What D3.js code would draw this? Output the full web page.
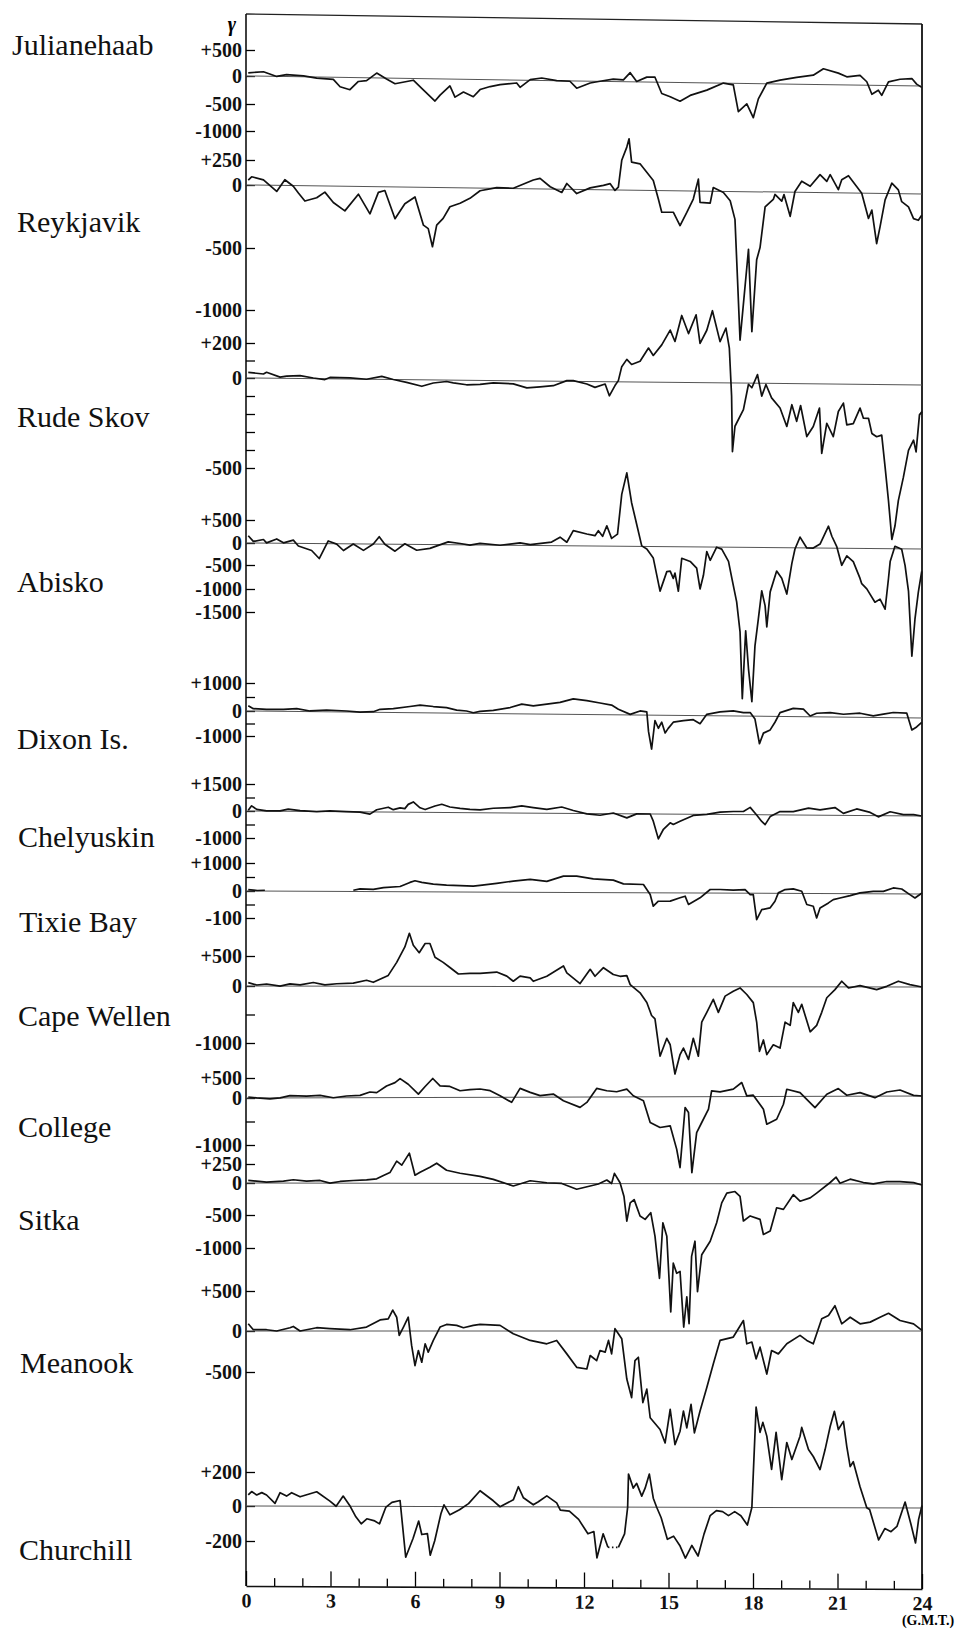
<!DOCTYPE html>
<html>
<head>
<meta charset="utf-8">
<script src="https://cdn.jsdelivr.net/npm/d3@7"></script>
<style>
  body { margin: 0; background: #fff; }
  svg { display: block; }
  .station { font-family: "Liberation Serif", serif; font-size: 30px; fill: #111; }
  .yaxis .tick text { font-family: "Liberation Serif", serif; font-weight: bold; font-size: 20px; fill: #111; }
  .xaxis .tick text { font-family: "Liberation Serif", serif; font-weight: bold; font-size: 20px; fill: #111; }
</style>
</head>
<body>
<div id="chart"></div>
<script>

// station names, top to bottom
var stations = ["Julianehaab", "Reykjavik", "Rude Skov", "Abisko", "Dixon Is.", "Chelyuskin",
  "Tixie Bay", "Cape Wellen", "College", "Sitka", "Meanook", "Churchill"];

// [hour (G.M.T.), deviation in gamma]; null = trace missing
var julianehaab = [[0.08,62],[0.62,87],[1.09,0],[1.44,37],[2.04,18],[2.51,-18],[3.1,-37],[3.34,-167],[3.69,-217],[3.99,-68],[4.28,-50],[4.64,93],[4.99,-18],[5.29,-99],[5.94,-31],[6.24,-174],[6.71,-397],[6.89,-290],[7.24,-124],[7.42,-322],[7.72,-230],[8.07,-310],[8.31,-180],[8.67,-124],[9.02,-87],[9.61,-53],[9.73,-130],[10.09,12],[10.5,46],[11.03,0],[11.5,-8],[11.74,-130],[12.22,-34],[12.57,0],[13.04,46],[13.4,34],[13.64,174],[13.87,6],[14.23,92],[14.52,93],[14.76,-202],[15.06,-260],[15.41,-335],[15.77,-229],[16.36,-130],[16.95,0],[17.3,-31],[17.48,-505],[17.78,-366],[18.01,-614],[18.19,-273],[18.49,10],[18.96,74],[19.55,130],[20.14,177],[20.5,304],[21.03,224],[21.33,155],[21.8,186],[22.04,66],[22.22,-161],[22.45,-87],[22.57,-178],[22.81,70],[23.22,124],[23.64,140],[23.81,34],[23.99,-25]];

var reykjavik = [[0.08,50],[0.2,83],[0.62,53],[1.09,-48],[1.38,58],[1.68,-5],[1.86,-58],[2.09,-121],[2.51,-94],[2.8,-48],[3.1,-130],[3.51,-195],[3.99,-61],[4.4,-216],[4.7,-44],[4.93,-29],[5.29,-252],[5.64,-132],[6.0,-77],[6.3,-300],[6.47,-327],[6.62,-470],[6.77,-298],[7.0,-244],[7.24,-151],[7.6,-122],[7.95,-82],[8.31,-21],[8.9,7],[9.49,3],[10.2,88],[10.44,105],[10.8,23],[11.21,-26],[11.39,58],[11.74,-33],[12.22,17],[12.69,44],[12.93,62],[13.1,-4],[13.22,29],[13.34,297],[13.52,430],[13.6,513],[13.69,280],[13.99,264],[14.46,99],[14.64,-67],[14.76,-172],[15.17,-171],[15.41,-276],[15.65,-171],[15.88,-64],[16.06,119],[16.12,-90],[16.48,-95],[16.59,37],[16.95,-9],[17.19,-74],[17.36,-221],[17.45,-700],[17.54,-1190],[17.84,-458],[17.96,-1120],[18.13,-540],[18.25,-442],[18.43,-118],[18.72,-59],[18.78,-19],[19.02,-72],[19.1,-19],[19.32,-191],[19.49,8],[19.73,112],[20.03,62],[20.38,180],[20.62,113],[20.74,181],[21.03,32],[21.15,132],[21.39,173],[21.68,67],[21.86,0],[22.1,-200],[22.22,-133],[22.39,-398],[22.51,-265],[22.69,-51],[22.93,104],[23.16,38],[23.28,-63],[23.52,-104],[23.7,-196],[23.87,-209],[23.99,-168]];

var rudeSkov = [[0.08,32],[0.62,24],[0.73,34],[1.21,7],[1.44,13],[1.92,17],[2.39,4],[2.8,-4],[2.98,8],[3.69,7],[4.28,0],[4.82,17],[5.23,0],[5.7,-15],[6.24,-36],[6.65,-17],[7.12,-8],[7.36,-15],[7.83,-25],[8.31,-22],[8.78,-13],[9.49,-17],[9.97,-39],[10.44,-32],[10.91,-25],[11.39,4],[11.62,4],[12.1,-14],[12.39,-32],[12.75,-13],[12.9,-78],[13.1,-21],[13.22,7],[13.34,87],[13.52,129],[13.69,100],[13.99,119],[14.29,195],[14.46,153],[14.76,214],[15.06,299],[15.23,234],[15.47,383],[15.71,280],[15.98,388],[16.12,225],[16.36,300],[16.56,412],[16.83,236],[17.04,314],[17.16,199],[17.24,-72],[17.27,-381],[17.36,-240],[17.66,-147],[17.84,-6],[17.96,-25],[18.16,50],[18.31,-71],[18.46,-6],[18.66,-80],[18.96,-136],[19.2,-238],[19.38,-117],[19.55,-209],[19.69,-121],[19.91,-293],[20.14,-237],[20.36,-134],[20.44,-386],[20.62,-218],[20.85,-292],[21.03,-152],[21.21,-105],[21.33,-226],[21.56,-219],[21.8,-132],[21.92,-188],[22.1,-188],[22.22,-272],[22.39,-290],[22.57,-281],[22.69,-458],[22.81,-645],[22.93,-860],[23.04,-785],[23.16,-644],[23.34,-513],[23.52,-364],[23.7,-307],[23.79,-372],[23.91,-166],[24.0,-148]];

var abisko = [[0.08,158],[0.26,36],[0.62,79],[0.73,7],[1.09,94],[1.33,11],[1.68,72],[1.86,-58],[2.33,-158],[2.6,-338],[2.92,61],[3.22,-7],[3.46,-151],[3.81,-3],[4.17,-144],[4.52,4],[4.73,163],[4.93,0],[5.29,-156],[5.64,14],[6.06,-130],[6.53,-86],[7.18,63],[7.6,30],[7.95,-3],[8.31,36],[9.02,0],[9.73,54],[10.09,18],[10.85,79],[11.15,187],[11.39,79],[11.62,333],[12.1,262],[12.39,226],[12.51,334],[12.66,214],[12.81,444],[12.98,171],[13.19,265],[13.34,1130],[13.52,1598],[13.69,950],[13.87,482],[14.05,14],[14.23,-55],[14.46,-260],[14.7,-967],[14.94,-560],[15.06,-550],[15.17,-700],[15.23,-590],[15.35,-967],[15.47,-260],[15.77,-330],[16.0,-480],[16.12,-915],[16.24,-630],[16.36,-100],[16.48,-300],[16.71,0],[16.89,-43],[17.13,-319],[17.25,-688],[17.42,-1186],[17.54,-1836],[17.62,-3290],[17.74,-1813],[17.84,-2638],[17.96,-3353],[18.07,-2137],[18.19,-1551],[18.31,-942],[18.43,-1267],[18.49,-1723],[18.61,-963],[18.84,-527],[19.02,-679],[19.2,-1005],[19.38,-352],[19.49,-26],[19.67,234],[19.91,0],[20.14,0],[20.38,87],[20.68,477],[20.8,260],[20.97,43],[21.15,-386],[21.33,-170],[21.56,-300],[21.8,-666],[21.86,-775],[22.04,-883],[22.33,-1166],[22.51,-1098],[22.69,-1315],[22.81,-662],[22.87,-293],[23.04,54],[23.28,-11],[23.4,-380],[23.46,-662],[23.52,-920],[23.64,-2331],[23.75,-1528],[23.87,-942],[23.99,-508]];

var dixon = [[0.08,185],[0.26,86],[0.73,69],[1.33,74],[1.8,105],[2.27,25],[2.86,66],[3.57,37],[4.05,0],[4.52,22],[4.76,111],[5.23,140],[5.82,221],[6.18,273],[6.65,229],[7.12,197],[7.48,111],[7.83,81],[8.07,22],[8.31,74],[8.78,116],[9.38,221],[9.79,348],[10.2,292],[10.68,357],[11.15,424],[11.62,553],[12.1,497],[12.57,416],[12.98,347],[13.22,202],[13.64,21],[13.99,148],[14.23,114],[14.29,-650],[14.4,-1353],[14.52,-210],[14.64,-520],[14.76,-274],[14.88,-706],[14.99,-520],[15.17,-271],[15.53,-204],[15.88,-163],[16.12,-320],[16.36,52],[16.83,143],[17.3,185],[17.66,127],[17.9,129],[18.07,-114],[18.23,-1097],[18.37,-671],[18.61,-539],[18.78,-230],[18.96,141],[19.43,295],[19.79,273],[20.03,30],[20.26,130],[20.74,160],[21.21,105],[21.8,148],[22.27,55],[22.63,121],[22.98,185],[23.46,166],[23.64,-483],[23.81,-360],[23.99,-172]];

var chelyuskin = [[0.08,38],[0.2,288],[0.38,96],[0.73,13],[1.21,19],[1.5,123],[1.92,38],[2.51,-7],[2.98,38],[3.57,8],[4.05,-12],[4.4,-81],[4.64,125],[5.05,269],[5.23,134],[5.47,236],[5.64,198],[5.76,434],[5.94,570],[6.18,250],[6.36,154],[6.71,355],[6.95,455],[7.24,307],[7.6,236],[7.95,186],[8.31,154],[8.78,253],[9.38,298],[9.79,397],[10.2,304],[10.68,211],[11.21,351],[11.62,163],[12.1,-15],[12.57,-61],[13.04,38],[13.52,-151],[13.87,0],[14.35,0],[14.46,-265],[14.64,-919],[14.82,-562],[15.06,-321],[15.17,-381],[15.41,-259],[15.88,-43],[16.36,0],[16.83,130],[17.3,173],[17.66,177],[17.9,409],[18.13,-7],[18.31,-244],[18.43,-363],[18.61,-64],[18.96,188],[19.43,192],[19.97,388],[20.38,296],[20.91,434],[21.21,111],[21.68,365],[22.16,177],[22.45,-44],[22.87,221],[23.34,71],[23.7,75],[23.99,0]];

var tixieBay = [[0.08,48],[0.4,20],[0.67,30],[2.0,null],[3.81,44],[4.05,96],[4.52,78],[4.88,141],[5.47,185],[5.82,332],[6.0,393],[6.24,336],[6.65,277],[7.12,245],[7.6,226],[8.07,208],[8.31,238],[8.9,312],[9.49,398],[10.09,459],[10.68,390],[11.27,583],[11.74,584],[12.33,491],[13.04,446],[13.4,316],[14.11,295],[14.35,-63],[14.46,-495],[14.64,-311],[15.06,-307],[15.41,-181],[15.59,-120],[15.71,-427],[16.12,-178],[16.48,127],[16.83,128],[17.3,107],[17.72,131],[17.9,-49],[18.01,-49],[18.13,-974],[18.31,-605],[18.61,-538],[18.78,-293],[18.9,17],[19.14,138],[19.43,163],[19.73,80],[19.91,-409],[20.14,-470],[20.26,-903],[20.38,-532],[20.68,-345],[20.85,-222],[21.09,-160],[21.45,-71],[21.8,28],[22.27,89],[22.63,89],[22.98,212],[23.28,175],[23.57,-26],[23.75,-147],[24.0,36]];

var capeWellen = [[0.08,57],[0.38,17],[0.73,34],[1.21,0],[1.56,37],[1.92,20],[2.39,60],[2.8,21],[3.22,40],[3.81,51],[4.28,99],[4.52,65],[5.05,180],[5.35,398],[5.64,655],[5.8,882],[5.94,684],[6.15,559],[6.36,713],[6.53,713],[6.71,485],[7.0,399],[7.24,314],[7.54,205],[7.95,217],[8.31,217],[8.9,239],[9.26,171],[9.49,86],[9.73,171],[10.09,143],[10.2,86],[10.68,171],[11.27,342],[11.39,228],[11.86,48],[12.22,286],[12.39,171],[12.69,314],[13.04,200],[13.28,171],[13.52,183],[13.64,33],[13.99,-109],[14.23,-280],[14.4,-507],[14.52,-565],[14.7,-1221],[14.94,-907],[15.06,-1020],[15.23,-1533],[15.41,-1191],[15.53,-1077],[15.71,-1277],[15.88,-906],[16.06,-1220],[16.18,-621],[16.36,-450],[16.59,-222],[16.77,-450],[17.01,-165],[17.3,-79],[17.54,-22],[17.78,-136],[18.01,-278],[18.13,-619],[18.23,-1133],[18.37,-933],[18.49,-1190],[18.72,-1018],[18.96,-1075],[19.14,-621],[19.32,-677],[19.43,-277],[19.61,-449],[19.73,-306],[20.03,-789],[20.26,-675],[20.44,-447],[20.62,-191],[20.91,-48],[21.15,94],[21.39,-19],[21.8,21],[22.39,-47],[22.75,10],[23.16,96],[23.57,39],[24.0,0]];

var college = [[0.08,25],[0.38,0],[0.85,-21],[1.21,0],[1.56,58],[2.15,42],[2.63,58],[3.1,0],[3.57,42],[4.05,58],[4.4,141],[4.64,125],[4.99,290],[5.29,374],[5.47,474],[5.76,332],[6.12,83],[6.36,274],[6.63,474],[6.89,290],[7.24,274],[7.6,166],[7.95,191],[8.31,208],[8.67,166],[9.02,40],[9.43,-109],[9.73,220],[10.09,120],[10.44,37],[10.91,76],[11.27,-78],[11.86,-221],[12.1,-115],[12.45,213],[12.81,154],[13.16,129],[13.52,193],[13.75,27],[14.11,-84],[14.35,-547],[14.7,-654],[15.06,-619],[15.29,-1115],[15.41,-1507],[15.59,-230],[15.71,-337],[15.83,-1615],[16.0,-765],[16.18,-550],[16.42,-266],[16.53,145],[16.83,120],[17.3,184],[17.6,350],[17.78,17],[18.01,33],[18.37,-271],[18.49,-591],[18.84,-486],[19.08,-167],[19.2,178],[19.67,95],[20.2,-240],[20.62,50],[21.03,191],[21.33,24],[21.8,89],[22.33,-32],[22.75,103],[23.22,151],[23.7,17],[24.0,0]];

var sitka = [[0.08,35],[0.73,13],[1.33,26],[1.68,44],[2.15,26],[2.63,35],[2.98,0],[3.34,22],[3.81,35],[4.28,44],[4.64,57],[4.88,101],[5.11,140],[5.35,290],[5.53,238],[5.8,396],[6.0,106],[6.18,145],[6.53,211],[6.77,264],[7.12,172],[7.6,132],[8.31,92],[8.78,53],[9.49,-41],[10.09,35],[10.68,9],[11.21,0],[11.74,-90],[12.22,-39],[12.51,-8],[12.81,46],[12.98,0],[13.08,134],[13.28,11],[13.42,-202],[13.52,-583],[13.64,-302],[13.78,-251],[13.99,-506],[14.17,-557],[14.37,-455],[14.52,-812],[14.68,-1450],[14.8,-608],[14.94,-812],[15.08,-1960],[15.17,-1220],[15.29,-1373],[15.41,-1346],[15.54,-2188],[15.65,-1729],[15.73,-2137],[15.82,-1117],[15.94,-887],[16.03,-1652],[16.18,-1091],[16.48,-887],[16.71,-606],[16.89,-300],[17.07,-147],[17.36,-122],[17.54,-198],[17.66,-580],[17.9,-503],[18.25,-554],[18.37,-784],[18.61,-732],[18.84,-375],[19.08,-400],[19.43,-170],[19.67,-272],[20.03,-220],[20.26,-144],[20.74,18],[20.95,88],[21.09,9],[21.45,62],[21.92,18],[22.27,0],[22.75,32],[23.22,32],[23.7,18],[24.0,-15]];

var meanook = [[0.08,90],[0.26,16],[0.73,16],[1.09,0],[1.56,41],[1.68,57],[1.92,0],[2.51,41],[2.98,29],[3.69,16],[4.28,49],[4.76,139],[5.05,152],[5.21,262],[5.35,172],[5.44,-53],[5.59,49],[5.76,172],[5.88,-176],[6.0,-422],[6.12,-238],[6.24,-381],[6.36,-156],[6.47,-258],[6.65,-115],[6.89,49],[7.12,82],[7.48,70],[7.72,41],[8.07,70],[8.31,82],[9.02,70],[9.49,-33],[10.09,-115],[10.68,-156],[11.03,-115],[11.39,-279],[11.74,-443],[12.1,-463],[12.22,-299],[12.45,-361],[12.57,-238],[12.75,-258],[12.87,-115],[12.98,-279],[13.1,29],[13.34,-94],[13.52,-586],[13.69,-812],[13.81,-361],[13.93,-320],[14.09,-873],[14.23,-709],[14.35,-1058],[14.7,-1201],[14.88,-1365],[15.06,-955],[15.23,-1386],[15.41,-1222],[15.53,-976],[15.65,-1181],[15.8,-894],[15.92,-1242],[16.12,-976],[16.36,-689],[16.59,-402],[16.83,-115],[17.3,-74],[17.66,131],[17.78,-156],[17.96,-135],[18.11,-340],[18.25,-197],[18.49,-525],[18.66,-238],[18.9,-279],[19.2,-156],[19.67,-53],[19.91,-115],[20.14,-156],[20.44,152],[20.68,193],[20.91,316],[21.15,90],[21.45,172],[21.8,90],[22.16,111],[22.51,172],[22.81,221],[23.22,131],[23.7,90],[24.0,8]];

var churchill = [[0.08,65],[0.2,85],[0.38,65],[0.56,79],[0.73,65],[1.03,16],[1.21,79],[1.44,59],[1.62,79],[1.92,55],[2.51,85],[2.98,30],[3.2,0],[3.45,60],[3.7,0],[3.9,-60],[4.09,-100],[4.29,-71],[4.57,-83],[4.74,-100],[4.96,-6],[5.18,24],[5.47,35],[5.67,-290],[5.93,-183],[6.13,-83],[6.24,-160],[6.44,-155],[6.54,-278],[6.7,-195],[6.92,-41],[7.03,10],[7.24,-47],[7.58,-18],[7.9,18],[8.31,94],[8.78,35],[9.02,0],[9.49,41],[9.67,118],[9.85,53],[10.2,12],[10.38,30],[10.68,65],[11.03,24],[11.16,-18],[11.48,-24],[11.81,-71],[12.14,-153],[12.35,-140],[12.46,-290],[12.68,-153],[12.85,-230],[13.0,null],[13.22,-230],[13.44,-153],[13.55,0],[13.58,195],[13.75,112],[13.87,140],[14.05,65],[14.17,112],[14.32,195],[14.46,53],[14.58,0],[14.74,-60],[14.96,-183],[15.18,-165],[15.4,-218],[15.6,-290],[15.83,-218],[16.05,-278],[16.26,-153],[16.48,-47],[16.7,-18],[16.92,-24],[17.13,-47],[17.35,-24],[17.57,-47],[17.8,-100],[17.96,0],[18.11,590],[18.25,442],[18.35,501],[18.49,420],[18.66,224],[18.82,442],[19.02,165],[19.2,383],[19.38,283],[19.67,420],[19.73,472],[19.97,342],[20.14,301],[20.38,224],[20.56,342],[20.74,478],[20.89,567],[21.03,460],[21.21,508],[21.33,360],[21.45,242],[21.56,271],[21.8,124],[22.04,0],[22.14,-10],[22.46,-183],[22.68,-118],[22.9,-136],[23.11,-106],[23.4,35],[23.61,-94],[23.77,-200],[23.88,-65],[24.0,15]];

var series = [julianehaab, reykjavik, rudeSkov, abisko, dixon, chelyuskin,
  tixieBay, capeWellen, college, sitka, meanook, churchill];

// how a gap in the trace is printed: blank, or bridged by a dotted line
var gapStyle = ["none", "none", "none", "none", "none", "none",
  "none", "none", "none", "none", "none", "dotted"];

// left-hand scale ticks of each magnetogram (gamma) and their printed labels
var tickValues = [
  [500, 0, -500, -1000],
  [250, 0, -500, -1000],
  [200, 100, 0, -100, -200, -300, -400, -500],
  [500, 0, -500, -1000, -1500],
  [1000, 500, 0, -500, -1000],
  [1500, 750, 0, -500, -1000],
  [1000, 500, 0, -500, -1000],
  [500, 0, -500, -1000],
  [500, 0, -500, -1000],
  [250, 0, -500, -1000],
  [500, 0, -500],
  [200, 0, -200]
];
var tickLabels = [
  ["+500", "0", "-500", "-1000"],
  ["+250", "0", "-500", "-1000"],
  ["+200", "", "0", "", "", "", "", "-500"],
  ["+500", "0", "-500", "-1000", "-1500"],
  ["+1000", "", "0", "", "-1000"],
  ["+1500", "", "0", "", "-1000"],
  ["+1000", "", "0", "", "-100"],
  ["+500", "0", "", "-1000"],
  ["+500", "0", "", "-1000"],
  ["+250", "0", "-500", "-1000"],
  ["+500", "0", "-500"],
  ["+200", "0", "-200"]
];

var hourTicks = d3.range(0, 25);

// page layout: zero line y, y of each labelled tick, name position, tilt of the scan (px over 24h)
var layout = [
  {zero: 76,   anchors: [50, 76, 104, 131],        nameX: 12, nameY: 55,   tilt: 10},
  {zero: 185,  anchors: [160, 185, 248, 310],      nameX: 17, nameY: 232,  tilt: 9},
  {zero: 378,  anchors: [343, 378, 468],           nameX: 17, nameY: 427,  tilt: 7},
  {zero: 543,  anchors: [520, 543, 565, 589, 612], nameX: 17, nameY: 592,  tilt: 6},
  {zero: 711,  anchors: [683, 711, 736],           nameX: 17, nameY: 749,  tilt: 7},
  {zero: 811,  anchors: [784, 811, 838],           nameX: 18, nameY: 847,  tilt: 5},
  {zero: 891,  anchors: [863, 891, 918],           nameX: 19, nameY: 932,  tilt: 3},
  {zero: 986,  anchors: [956, 986, 1043],          nameX: 18, nameY: 1026, tilt: 1},
  {zero: 1098, anchors: [1078, 1098, 1145],        nameX: 18, nameY: 1137, tilt: -2},
  {zero: 1183, anchors: [1164, 1183, 1215, 1248],  nameX: 18, nameY: 1230, tilt: 1},
  {zero: 1331, anchors: [1291, 1331, 1372],        nameX: 20, nameY: 1373, tilt: 0},
  {zero: 1506, anchors: [1472, 1506, 1541],        nameX: 19, nameY: 1560, tilt: 2}
];

var W = 960, H = 1635;
var frame = {left: 246, right: 922, top: 14, topTilt: 10, bottom: 1586, bottomTilt: 3};
var plotW = frame.right - frame.left;

var svg = d3.select("#chart").append("svg")
  .attr("width", W)
  .attr("height", H);

var x = d3.scaleLinear().domain([0, 24]).range([0, plotW]);

function skew(tilt) {
  return "skewY(" + (Math.atan(tilt / plotW) * 180 / Math.PI) + ")";
}

// frame
svg.append("g")
  .attr("transform", "translate(" + frame.left + "," + frame.top + ") " + skew(frame.topTilt))
  .append("line")
  .attr("x1", x(0)).attr("x2", x(24))
  .attr("stroke", "#222").attr("stroke-width", 1.4);

svg.append("line")
  .attr("x1", frame.left).attr("x2", frame.left)
  .attr("y1", frame.top).attr("y2", frame.bottom)
  .attr("stroke", "#111").attr("stroke-width", 1.6);

svg.append("line")
  .attr("x1", frame.right).attr("x2", frame.right)
  .attr("y1", frame.top + frame.topTilt).attr("y2", frame.bottom + frame.bottomTilt)
  .attr("stroke", "#111").attr("stroke-width", 1.8);

// time axis
var xAxis = d3.axisBottom(x)
  .tickValues(hourTicks)
  .tickSize(-8)
  .tickSizeOuter(0)
  .tickPadding(7)
  .tickFormat(function(d) { return d % 3 === 0 ? d : ""; });

var xg = svg.append("g")
  .attr("class", "xaxis")
  .attr("transform", "translate(" + frame.left + "," + frame.bottom + ") " + skew(frame.bottomTilt))
  .call(xAxis);

xg.select(".domain").attr("stroke", "#111").attr("stroke-width", 1.6);
xg.selectAll(".tick line")
  .attr("stroke-width", 1.3)
  .attr("y2", function(d) { return d % 3 === 0 ? -15 : -8; });

svg.append("text")
  .attr("x", 928)
  .attr("y", 1625)
  .attr("text-anchor", "middle")
  .style("font-family", "'Liberation Serif', serif")
  .style("font-weight", "bold")
  .style("font-size", "14px")
  .text("(G.M.T.)");

svg.append("text")
  .attr("x", 232)
  .attr("y", 31)
  .attr("text-anchor", "middle")
  .style("font-family", "'Liberation Serif', serif")
  .style("font-style", "italic")
  .style("font-weight", "bold")
  .style("font-size", "20px")
  .text("γ");

// one magnetogram per station
stations.forEach(function(name, i) {
  var L = layout[i];
  var labelled = tickValues[i].filter(function(v, j) { return tickLabels[i][j] !== ""; });

  var y = d3.scaleLinear()
    .domain(labelled)
    .range(L.anchors.map(function(a) { return a - L.zero; }));

  svg.append("text")
    .attr("class", "station")
    .attr("x", L.nameX)
    .attr("y", L.nameY)
    .text(name);

  var yAxis = d3.axisLeft(y)
    .tickValues(tickValues[i])
    .tickSize(-9)
    .tickPadding(4)
    .tickFormat(function(d, j) { return tickLabels[i][j]; });

  var ag = svg.append("g")
    .attr("class", "yaxis")
    .attr("transform", "translate(" + frame.left + "," + L.zero + ")")
    .call(yAxis);
  ag.select(".domain").remove();
  ag.selectAll(".tick line").attr("stroke-width", 1.3);

  var g = svg.append("g")
    .attr("transform", "translate(" + frame.left + "," + L.zero + ") " + skew(L.tilt));

  // zero line
  g.append("line")
    .attr("x1", x(0)).attr("x2", x(24))
    .attr("y1", y(0)).attr("y2", y(0))
    .attr("stroke", "#555")
    .attr("stroke-width", 1);

  var line = d3.line()
    .defined(function(d) { return d[1] !== null; })
    .x(function(d) { return x(d[0]); })
    .y(function(d) { return y(d[1]); });

  g.append("path")
    .datum(series[i])
    .attr("d", line)
    .attr("fill", "none")
    .attr("stroke", "#111")
    .attr("stroke-width", 1.7)
    .attr("stroke-linejoin", "round");

  if (gapStyle[i] === "dotted") {
    var data = series[i];
    data.forEach(function(d, k) {
      if (d[1] === null && k > 0 && k < data.length - 1) {
        g.append("path")
          .datum([data[k - 1], data[k + 1]])
          .attr("d", d3.line().x(function(p) { return x(p[0]); }).y(function(p) { return y(p[1]); }))
          .attr("fill", "none")
          .attr("stroke", "#111")
          .attr("stroke-width", 1.6)
          .attr("stroke-dasharray", "1.5,2.5");
      }
    });
  }
});

</script>
</body>
</html>
